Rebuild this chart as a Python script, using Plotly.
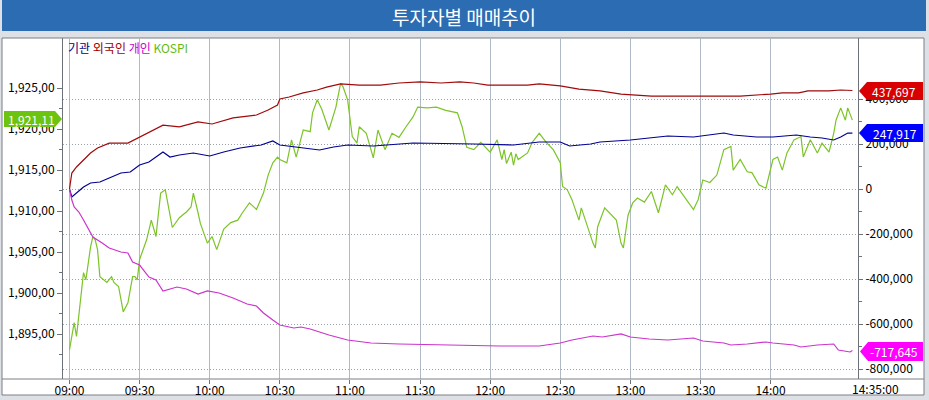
import pandas as pd
import plotly.graph_objects as go

BASE = pd.Timestamp("2013-06-03 09:00")

# minutes after 09:00 and KOSPI level
kospi_min = [0, 2, 3, 5, 6, 7, 9, 10, 11, 12, 13, 16, 18, 19, 21, 23, 25, 27, 28, 29,
             30, 33, 35, 37, 39, 41, 43, 44, 47, 50, 52, 53, 55, 56, 59, 61, 63, 66, 69, 72,
             74, 77, 80, 83, 85, 87, 89, 90, 93, 95, 97, 100, 103, 104, 106, 108, 111, 114, 116, 117,
             119, 121, 123, 124, 127, 130, 132, 135, 138, 141, 144, 147, 149, 153, 157, 161, 166, 168, 170, 173,
             176, 180, 183, 185, 186, 187, 189, 190, 191, 192, 196, 198, 201, 204, 207, 210, 211, 213, 215, 218,
             219, 221, 224, 225, 226, 229, 232, 234, 236, 237, 239, 241, 243, 246, 249, 252, 255, 258, 260, 263,
             267, 269, 271, 274, 277, 280, 283, 284, 287, 290, 292, 295, 298, 301, 303, 305, 307, 310, 313, 314,
             317, 320, 322, 325, 327, 328, 330, 332, 333, 335]
kospi = [1893.1, 1896.4, 1894.7, 1899.5, 1902.5, 1901.6, 1905.6, 1906.9, 1906.5, 1905.3,
         1902.0, 1901.3, 1902.0, 1901.3, 1900.8, 1897.7, 1898.8, 1902.0, 1902.0, 1901.6,
         1904.1, 1906.5, 1908.9, 1906.9, 1912.2, 1912.6, 1909.3, 1908.0, 1909.2, 1909.9,
         1910.5, 1912.2, 1909.8, 1908.5, 1906.1, 1906.9, 1905.3, 1907.8, 1908.6, 1908.9,
         1909.8, 1911.0, 1910.2, 1912.2, 1914.4, 1915.9, 1916.6, 1916.3, 1915.9, 1918.7,
         1916.6, 1919.9, 1919.7, 1922.0, 1923.6, 1922.4, 1919.9, 1922.7, 1925.6, 1925.2,
         1923.6, 1919.1, 1918.3, 1920.3, 1919.5, 1916.5, 1919.9, 1917.5, 1919.5, 1919.0,
         1920.3, 1921.5, 1922.7, 1922.6, 1922.7, 1922.3, 1922.0, 1920.3, 1917.8, 1917.5,
         1918.4, 1917.2, 1918.7, 1916.3, 1917.5, 1915.8, 1917.2, 1915.6, 1917.0, 1916.3,
         1917.1, 1918.4, 1919.5, 1918.4, 1917.5, 1915.9, 1913.0, 1912.6, 1911.4, 1908.9,
         1910.4, 1908.6, 1906.1, 1905.5, 1908.1, 1910.4, 1909.5, 1908.9, 1906.1, 1905.5,
         1909.5, 1911.0, 1911.6, 1911.1, 1912.4, 1909.8, 1913.2, 1912.0, 1913.0, 1911.8,
         1910.2, 1911.4, 1913.8, 1913.5, 1914.4, 1917.5, 1917.9, 1915.0, 1916.3, 1914.8,
         1914.7, 1913.2, 1912.8, 1916.3, 1916.6, 1915.0, 1917.1, 1918.7, 1919.1, 1916.6,
         1918.7, 1917.1, 1918.3, 1917.2, 1919.5, 1921.1, 1922.6, 1921.1, 1922.6, 1921.11]

# 외국인 net buying
frgn_min = [0, 1, 3, 5, 9, 12, 17, 25, 30, 34, 40, 47, 55, 61, 70, 80, 85, 89, 90, 94,
            100, 106, 110, 116, 124, 133, 141, 150, 159, 167, 173, 179, 184, 196, 201, 210, 218, 227, 236, 249,
            270, 287, 300, 305, 312, 316, 325, 330, 335]
frgn = [0, 71000, 98000, 120000, 160000, 182000, 204000, 204000, 231000, 249000,
        284000, 276000, 298000, 289000, 316000, 329000, 351000, 373000, 400000, 409000,
        427000, 440000, 453000, 467000, 462000, 462000, 471000, 476000, 471000, 476000,
        471000, 462000, 462000, 462000, 467000, 458000, 444000, 436000, 422000, 413000,
        413000, 413000, 422000, 427000, 427000, 436000, 436000, 440000, 437697]

# 기관 net buying
inst_min = [0, 1, 5, 6, 9, 13, 17, 22, 26, 30, 34, 39, 40, 43, 47, 53, 60, 66, 73, 82,
            87, 90, 96, 102, 107, 113, 119, 130, 147, 173, 190, 201, 210, 214, 218, 223, 227, 240, 248, 256,
            267, 271, 280, 284, 294, 301, 311, 317, 322, 327, 330, 333, 335]
inst = [0, -35500, 0, 8900, 26700, 31100, 48900, 71100, 75600, 106700,
        120000, 160000, 164400, 142200, 151100, 160000, 146700, 164400, 182200, 195600,
        213300, 195600, 186700, 177800, 173300, 186700, 195600, 191100, 204400, 200000,
        195600, 208900, 208900, 191100, 195600, 200000, 208900, 217800, 226700, 235600,
        231100, 235600, 248900, 240000, 231100, 231100, 240000, 231100, 226700, 217800,
        231100, 248900, 247917]

# 개인 net buying
indv_min = [0, 1, 2, 4, 6, 9, 10, 14, 17, 22, 25, 27, 30, 34, 37, 40, 46, 50, 55, 59,
            64, 70, 76, 80, 83, 87, 90, 96, 99, 103, 107, 111, 119, 129, 141, 163, 184, 201, 210, 215,
            224, 228, 236, 240, 248, 256, 267, 271, 280, 283, 290, 298, 301, 310, 313, 320, 327, 329, 334, 335]
indv = [0, -48900, -80000, -102200, -137800, -191100, -213300, -240000, -262200, -280000,
        -284400, -324400, -337800, -391100, -404400, -453300, -435600, -444400, -466700, -453300,
        -462200, -484400, -511100, -520000, -551100, -582200, -604400, -617800, -613300, -622200,
        -635600, -648900, -671100, -684400, -688900, -693300, -697800, -697800, -684400, -671100,
        -653300, -657800, -644400, -657800, -666700, -671100, -662200, -675600, -684400, -693300,
        -688900, -680000, -684400, -693300, -702200, -693300, -688900, -715600, -724400, -717645]

time_ticks = ["09:00", "09:30", "10:00", "10:30", "11:00", "11:30",
              "12:00", "12:30", "13:00", "13:30", "14:00"]
left_ticks = [1895, 1900, 1905, 1910, 1915, 1920, 1925]
right_ticks = [-800000, -600000, -400000, -200000, 0, 200000, 400000]
last_time = "14:35:00"

FONT = "Noto Sans CJK KR, Liberation Sans, sans-serif"


def tm(mins):
    return BASE + pd.to_timedelta(mins, unit="m")


# pixel -> paper helpers (plot area is x 63..858, y 38..379)
def X(p):
    return (p - 63) / 795


def Y(p):
    return (379 - p) / 341


fig = go.Figure()
fig.add_trace(go.Scatter(x=tm(kospi_min), y=kospi, mode="lines", name="KOSPI",
                         line=dict(color="#7cc428", width=1.2)))
fig.add_trace(go.Scatter(x=tm(inst_min), y=inst, yaxis="y2", mode="lines", name="기관",
                         line=dict(color="#000090", width=1.2)))
fig.add_trace(go.Scatter(x=tm(frgn_min), y=frgn, yaxis="y2", mode="lines", name="외국인",
                         line=dict(color="#a00a0a", width=1.2)))
fig.add_trace(go.Scatter(x=tm(indv_min), y=indv, yaxis="y2", mode="lines", name="개인",
                         line=dict(color="#cc33cc", width=1.2)))

shapes = [
    # white frame
    dict(type="rect", xref="paper", yref="paper", x0=X(2), x1=X(924), y0=Y(395), y1=Y(38),
         fillcolor="white", line=dict(color="#7a7f86", width=1), layer="below"),
    # title bar
    dict(type="rect", xref="paper", yref="paper", x0=X(2), x1=X(926), y0=Y(31), y1=Y(0),
         fillcolor="#2b6cb2", line=dict(width=0)),
    # separator under the plot
    dict(type="line", xref="paper", yref="paper", x0=X(2), x1=X(924), y0=0, y1=0,
         line=dict(color="#7a7f86", width=1)),
]


def tag(x_tip, x_end, y0, y1, color, left=False):
    ym = (y0 + y1) / 2
    if left:
        pts = [(x_end, y0), (x_tip - 7, y0), (x_tip, ym), (x_tip - 7, y1), (x_end, y1)]
    else:
        pts = [(x_tip, ym), (x_tip + 8, y0), (x_end, y0), (x_end, y1), (x_tip + 8, y1)]
    path = "M " + " L ".join(f"{X(a):.5f},{Y(b):.5f}" for a, b in pts) + " Z"
    return dict(type="path", xref="paper", yref="paper", path=path,
                fillcolor=color, line=dict(width=0))


shapes += [
    tag(859, 923, 82, 100, "#d80000"),
    tag(859, 923, 124, 142, "#0000ff"),
    tag(860, 923, 342, 361, "#ff00ff"),
    tag(62, 4, 111, 127, "#6cc410", left=True),
]


def label(text, px, py, color="white", size=12, anchor="center"):
    return dict(text=text, x=X(px), y=Y(py), xref="paper", yref="paper",
                xanchor=anchor, yanchor="middle", showarrow=False,
                font=dict(family=FONT, size=size, color=color))


annotations = [
    label("투자자별 매매추이", 464, 16, size=19),
    label("<span style='color:#000080'>기관</span> <span style='color:#a00000'>외국인</span> "
          "<span style='color:#cc00cc'>개인</span> <span style='color:#66bb11'>KOSPI</span>",
          66, 48, anchor="left"),
    label(f"{frgn[-1]:,}", 894, 91),
    label(f"{inst[-1]:,}", 895, 133),
    label(f"{indv[-1]:,}", 894, 351.5),
    label(f"{kospi[-1]:,.2f}".replace(".", ","), 31, 119),
    label(last_time, 875, 388, color="black"),
]

tick_style = dict(ticks="outside", tickcolor="#6d7279", tickwidth=1, automargin=False,
                  tickfont=dict(family=FONT, size=12, color="black"))

fig.update_layout(
    width=929, height=400,
    margin=dict(l=63, r=71, t=38, b=21, autoexpand=False),
    paper_bgcolor="#dde1e6", plot_bgcolor="white",
    showlegend=False, hovermode=False,
    shapes=shapes, annotations=annotations,
    xaxis=dict(range=[tm(-2.78), tm(337.4)], tickmode="array",
               tickvals=[tm(30 * i) for i in range(len(time_ticks))], ticktext=time_ticks,
               ticklen=4, ticklabelstandoff=-3, showgrid=True, gridcolor="#b0bac6", gridwidth=1,
               showline=False, zeroline=False, **tick_style),
    yaxis=dict(range=[1889.51, 1931.13], tickmode="array", tickvals=left_ticks,
               ticktext=[f"{v:,.2f}".replace(".", ",") for v in left_ticks],
               ticklen=5, showgrid=False, zeroline=False,
               showline=True, linecolor="#6d7279", linewidth=1,
               minor=dict(tickmode="array", tickvals=[v - 2.5 for v in left_ticks] + [1922.5],
                          ticks="outside", ticklen=3, tickcolor="#6d7279", showgrid=False),
               **tick_style),
    yaxis2=dict(overlaying="y", side="right", range=[-844444, 671111], tickmode="array",
                tickvals=right_ticks, ticktext=[f"{v:,}" for v in right_ticks],
                ticklen=4, showgrid=True, gridcolor="#9aa2ac", griddash="1px,2px", gridwidth=1,
                zeroline=False, showline=True, linecolor="#6d7279", linewidth=1,
                minor=dict(tickmode="array", tickvals=[v + 100000 for v in right_ticks[:-1]],
                           ticks="outside", ticklen=3, tickcolor="#6d7279", showgrid=False),
                **tick_style),
)

# the page's default body margin would shift the 929x400 figure
fig.write_html("out.html", config={"displayModeBar": False},
               post_script="document.body.style.margin='0px';")
